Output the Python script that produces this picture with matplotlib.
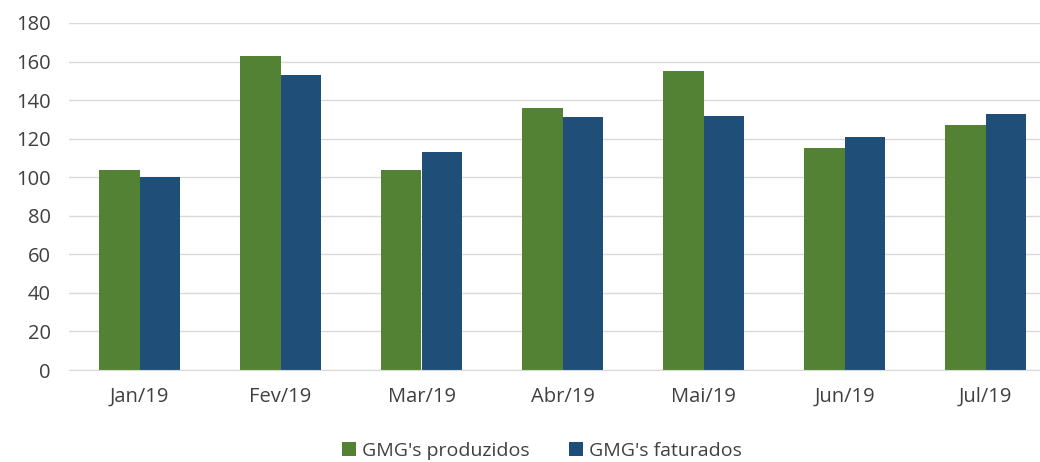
import numpy as np
import matplotlib
matplotlib.use('Agg')
import matplotlib.pyplot as plt

plt.rcParams['font.family'] = ['Open Sans', 'DejaVu Sans']

# dados
meses = ['Jan/19', 'Fev/19', 'Mar/19', 'Abr/19', 'Mai/19', 'Jun/19', 'Jul/19']
produzidos = [104, 163, 104, 136, 155, 115, 127]
faturados = [100, 153, 113, 131, 132, 121, 133]

cor_prod = '#548235'
cor_fat = '#1F4E79'
cor_texto = '#404040'

fig = plt.figure(figsize=(10.4, 4.62), dpi=100)
ax = fig.add_axes([69 / 1040, 1 - 370 / 462, 987 / 1040, 347 / 462])

x = np.arange(len(meses))
w = 0.285
ax.bar(x - w / 2, produzidos, w, color=cor_prod, label="GMG's produzidos")
ax.bar(x + w / 2, faturados, w, color=cor_fat, label="GMG's faturados")

ax.set_xlim(-0.5, len(meses) - 0.5)
ax.set_ylim(0, 180)
ax.set_yticks(range(0, 181, 20))
ax.yaxis.grid(True, color='#d9d9d9', linewidth=1)
ax.set_axisbelow(True)
for s in ['top', 'right', 'left']:
    ax.spines[s].set_visible(False)
ax.spines['bottom'].set_color('#d9d9d9')
ax.set_xticks(x)
ax.set_xticklabels(meses)
ax.tick_params(axis='both', length=0, labelsize=14.5, colors=cor_texto)
ax.tick_params(axis='x', pad=12)
ax.tick_params(axis='y', pad=13)

leg = fig.legend(loc='center', bbox_to_anchor=(542 / 1040, 1 - 451 / 462), ncol=2,
                 frameon=False, fontsize=14, handlelength=0.75, handleheight=0.75,
                 handletextpad=0.3, columnspacing=2.0)
for t in leg.get_texts():
    t.set_color(cor_texto)

fig.savefig('out.png', dpi=100)
